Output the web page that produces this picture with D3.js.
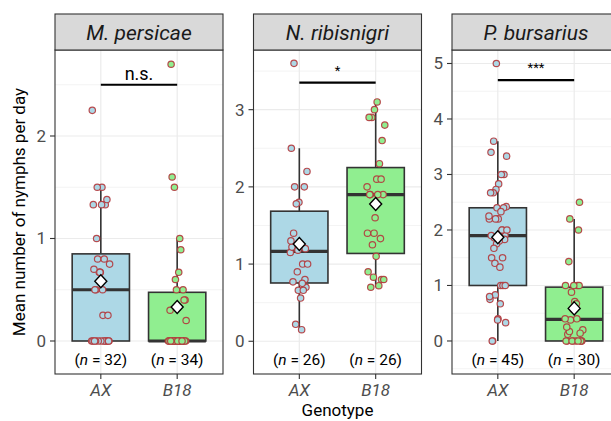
<!DOCTYPE html>
<html><head><meta charset="utf-8">
<script src="https://cdn.jsdelivr.net/npm/d3@7"></script>
<style>
body{margin:0;background:#fff}
svg{display:block;font-family:Roboto,"Liberation Sans",sans-serif}
</style>
</head><body>
<svg id="c" width="611" height="421"></svg>
<script>
// ---------------- data ----------------
const species = ["M. persicae", "N. ribisnigri", "P. bursarius"];
const genotypes = ["AX", "B18"];

const mpAX  = [0,0.25,0.5,0,0.67,1.33,0,0.8,0,1.5,0.5,0,0.67,2.25,0,1.0,0.25,0,0.7,1.33,0,0.75,0.5,0,1.38,0.67,0,0.8,1.5,0,1.33,0];
const mpB18 = [0,0.2,0,1.6,0,0.5,0,0.89,0,0.4,0,2.7,0,0.6,0,1.0,0,0.4,0,0.3,0,1.5,0,0.67,0,0.5,0,0,0,0,0,0,0,0];
const nrAX  = [3.6,1.2,0.66,2.5,1.0,0.22,2.2,1.25,0.77,2.0,0.9,1.15,0.15,2.0,0.7,1.8,1.22,0.66,1.78,1.0,0.56,1.4,0.8,1.18,1.3,0.75];
const nrB18 = [3.1,1.9,0.8,3.0,1.4,0.72,2.9,1.9,1.1,2.9,1.33,0.83,2.8,1.9,0.7,2.6,1.6,0.9,2.3,1.25,0.8,2.1,1.9,2.1,1.4,2.0];
const pbAX  = [5.0,2.2,1.0,3.6,1.9,0.4,3.4,2.0,0.83,3.33,1.89,0,3.0,2.4,0.75,3.0,1.86,0.33,2.83,1.5,1.0,2.73,2.25,0.67,2.67,1.83,0.38,2.67,2.0,1.4,2.42,1.8,0,2.4,1.75,0.8,2.33,1.67,1.0,2.2,1.9,1.5,2.2,2.0,1.33];
const pbB18 = [2.5,0,1.0,0.4,2.2,0,0.6,0,2.0,0.88,0.2,0,1.43,0.14,0.57,0,1.0,0.38,0,0.71,0.12,1.0,0,0.4,0.67,0.17,0,1.0,0.25,0];

const panelValues = [[mpAX, mpB18], [nrAX, nrB18], [pbAX, pbB18]];
const sigLabels  = ["n.s.", "*", "***"];
const sigHeights = [2.5, 3.35, 4.7];
const yTicks      = [[0,1,2], [0,1,2,3], [0,1,2,3,4,5]];
const yMinorTicks = [[0.5,1.5,2.5], [0.5,1.5,2.5,3.5], [-0.5,0.5,1.5,2.5,3.5,4.5]];
const yDomains    = [[-0.322,2.839], [-0.424,3.773], [-0.595,5.243]];
const fills = {"AX": "#add8e6", "B18": "#90ee90"};

// ---------------- layout ----------------
const svg = d3.select("#c");
svg.append("rect").attr("width",611).attr("height",421).attr("fill","#fff");
const panelW = 168, firstLeft = 55, gap = 30.5;
const pTop = 50, pBottom = 374, stripH = 36;
const gridCol = "#ebebeb", darkCol = "#333333";

function stats(v) {
  const s = v.slice().sort(d3.ascending);
  const q1 = d3.quantile(s, 0.25), med = d3.quantile(s, 0.5), q3 = d3.quantile(s, 0.75);
  const iqr = q3 - q1;
  const lo = d3.min(s.filter(d => d >= q1 - 1.5*iqr));
  const hi = d3.max(s.filter(d => d <= q3 + 1.5*iqr));
  return {q1, med, q3, lo, hi, mean: d3.mean(s)};
}

species.forEach((sp, p) => {
  const left = firstLeft + p*(panelW + gap), right = left + panelW;
  const x = d3.scalePoint().domain(genotypes).range([left, right]).padding(0.6);
  const step = x.step();
  const y = d3.scaleLinear().domain(yDomains[p]).range([pBottom, pTop]);
  const g = svg.append("g");

  g.append("rect").attr("x",left).attr("y",pTop).attr("width",panelW).attr("height",pBottom-pTop).attr("fill","#fff");
  g.selectAll(".mg").data(yMinorTicks[p]).join("line")
    .attr("x1",left).attr("x2",right).attr("y1",d=>y(d)).attr("y2",d=>y(d))
    .attr("stroke",gridCol).attr("stroke-width",0.6);
  g.selectAll(".Mg").data(yTicks[p]).join("line")
    .attr("x1",left).attr("x2",right).attr("y1",d=>y(d)).attr("y2",d=>y(d))
    .attr("stroke",gridCol).attr("stroke-width",1.2);
  g.selectAll(".vg").data(genotypes).join("line")
    .attr("x1",d=>x(d)).attr("x2",d=>x(d)).attr("y1",pTop).attr("y2",pBottom)
    .attr("stroke",gridCol).attr("stroke-width",1.2);

  const bw = step*0.75;
  genotypes.forEach((gt, k) => {
    const vals = panelValues[p][k];
    const st = stats(vals);
    const cx = x(gt);
    g.append("line").attr("x1",cx).attr("x2",cx).attr("y1",y(st.hi)).attr("y2",y(st.q3))
      .attr("stroke",darkCol).attr("stroke-width",1.6);
    g.append("line").attr("x1",cx).attr("x2",cx).attr("y1",y(st.q1)).attr("y2",y(st.lo))
      .attr("stroke",darkCol).attr("stroke-width",1.6);
    g.append("rect").attr("x",cx-bw/2).attr("y",y(st.q3)).attr("width",bw)
      .attr("height",Math.max(0,y(st.q1)-y(st.q3)))
      .attr("fill",fills[gt]).attr("stroke",darkCol).attr("stroke-width",1.6);
    g.append("line").attr("x1",cx-bw/2).attr("x2",cx+bw/2).attr("y1",y(st.med)).attr("y2",y(st.med))
      .attr("stroke",darkCol).attr("stroke-width",3.2);
    g.selectAll(null).data(vals).join("circle")
      .attr("cx",(d,i)=>cx + (((i*0.6180339 + k*0.37 + p*0.21) % 1) - 0.5) * step * 0.24)
      .attr("cy",d=>y(d)).attr("r",3.2)
      .attr("fill",fills[gt]).attr("stroke","#b3393c").attr("stroke-width",1.2)
      .attr("stroke-opacity",0.9);
    const my = y(st.mean);
    g.append("path").attr("d",`M${cx},${my-6.5}L${cx+6},${my}L${cx},${my+6.5}L${cx-6},${my}Z`)
      .attr("fill","#fff").attr("stroke","#000").attr("stroke-width",1.4);
    const t = g.append("text").attr("x",cx).attr("y",pBottom-9).attr("text-anchor","middle")
      .attr("font-size",15.5).attr("fill","#000");
    t.append("tspan").text("(");
    t.append("tspan").attr("font-style","italic").text("n");
    t.append("tspan").text(" = " + vals.length + ")");
  });

  const sy = y(sigHeights[p]);
  g.append("line").attr("x1",x("AX")).attr("x2",x("B18")).attr("y1",sy).attr("y2",sy)
    .attr("stroke","#000").attr("stroke-width",2.2);
  const isStar = sigLabels[p] !== "n.s.";
  g.append("text").attr("x",(x("AX")+x("B18"))/2).attr("y",sy-(isStar?8:5))
    .attr("text-anchor","middle").attr("font-size",isStar?13:18).attr("fill","#000")
    .text(sigLabels[p]);

  g.append("rect").attr("x",left).attr("y",pTop).attr("width",panelW).attr("height",pBottom-pTop)
    .attr("fill","none").attr("stroke",darkCol).attr("stroke-width",1.1);
  g.append("rect").attr("x",left).attr("y",pTop-stripH).attr("width",panelW).attr("height",stripH)
    .attr("fill","#d9d9d9").attr("stroke",darkCol).attr("stroke-width",1.1);
  g.append("text").attr("x",(left+right)/2).attr("y",pTop-stripH/2+7.5).attr("text-anchor","middle")
    .attr("font-size",21).attr("font-style","italic").attr("fill","#1a1a1a").text(sp);

  g.selectAll(".yt").data(yTicks[p]).join("line")
    .attr("x1",left-5).attr("x2",left).attr("y1",d=>y(d)).attr("y2",d=>y(d))
    .attr("stroke",darkCol).attr("stroke-width",1.1);
  g.selectAll(".yl").data(yTicks[p]).join("text")
    .attr("x",left-9).attr("y",d=>y(d)+6).attr("text-anchor","end")
    .attr("font-size",17).attr("fill","#4d4d4d").text(d=>d);
  g.selectAll(".xt").data(genotypes).join("line")
    .attr("x1",d=>x(d)).attr("x2",d=>x(d)).attr("y1",pBottom).attr("y2",pBottom+5)
    .attr("stroke",darkCol).attr("stroke-width",1.1);
  g.selectAll(".xl").data(genotypes).join("text")
    .attr("x",d=>x(d)).attr("y",pBottom+22).attr("text-anchor","middle")
    .attr("font-size",17).attr("font-style","italic").attr("fill","#4d4d4d").text(d=>d);
});

svg.append("text").attr("transform",`translate(25,${(pTop+pBottom)/2}) rotate(-90)`)
  .attr("text-anchor","middle").attr("font-size",17).attr("fill","#000")
  .text("Mean number of nymphs per day");
svg.append("text").attr("x",firstLeft + (3*panelW + 2*gap)/2).attr("y",416)
  .attr("text-anchor","middle").attr("font-size",17).attr("fill","#000").text("Genotype");
</script>
</body></html>
